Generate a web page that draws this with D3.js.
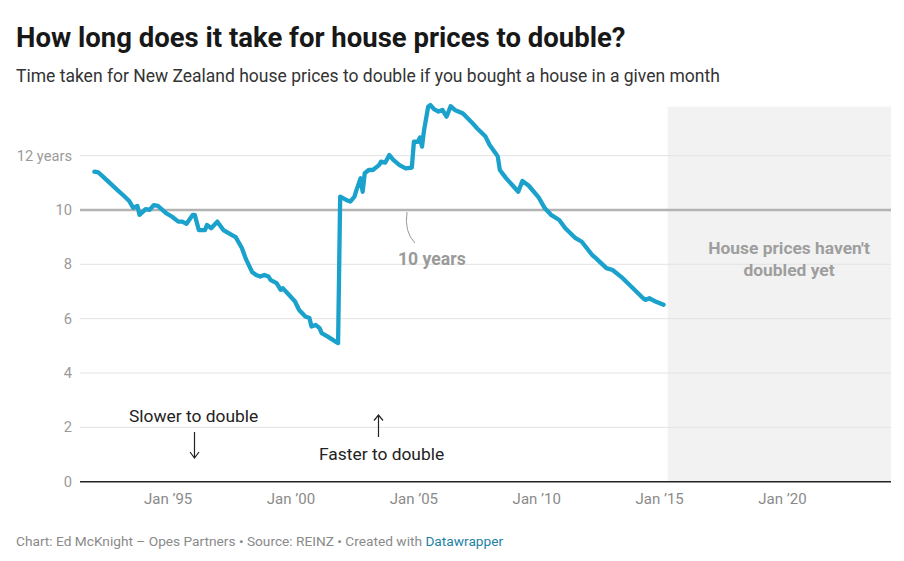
<!DOCTYPE html>
<html><head><meta charset="utf-8">
<script src="https://cdn.jsdelivr.net/npm/d3@7"></script>
<style>
body{margin:0;background:#fff;}
svg{display:block;font-family:Roboto,"Noto Sans",sans-serif;}
</style></head>
<body><svg id="c" width="904" height="561"></svg>
<script>
const months = ["1992-01","1992-03","1992-06","1992-09","1992-12","1993-03","1993-06","1993-08","1993-10","1993-11",
"1994-02","1994-04","1994-06","1994-08","1994-12","1995-03","1995-06","1995-08","1995-10","1996-01",
"1996-02","1996-04","1996-07","1996-08","1996-10","1997-01","1997-04","1997-08","1997-10","1998-01",
"1998-03","1998-06","1998-08","1998-10","1998-12","1999-02","1999-03","1999-06","1999-08","1999-09",
"1999-12","2000-03","2000-05","2000-08","2000-10","2000-11","2001-01","2001-03","2001-04","2001-07",
"2001-10","2001-12","2002-01","2002-04","2002-06","2002-08","2002-09","2002-11","2002-12","2003-01",
"2003-03","2003-05","2003-08","2003-09","2003-11","2004-01","2004-03","2004-06","2004-09","2004-12",
"2005-01","2005-03","2005-04","2005-05","2005-06","2005-08","2005-09","2005-11","2006-01","2006-03",
"2006-05","2006-07","2006-09","2007-01","2007-05","2007-08","2007-12","2008-02","2008-05","2008-06",
"2008-07","2008-10","2009-01","2009-04","2009-06","2009-09","2010-02","2010-05","2010-08","2010-12",
"2011-03","2011-08","2011-11","2012-04","2012-06","2012-11","2013-02","2013-07","2013-12","2014-05",
"2014-06","2014-08","2014-11","2015-03"];
const years = [11.41,11.38,11.17,10.96,10.75,10.55,10.33,10.08,10.15,9.82,
10.03,10.0,10.18,10.15,9.88,9.75,9.57,9.57,9.49,9.82,
9.82,9.26,9.26,9.45,9.33,9.57,9.26,9.08,9.0,8.6,
8.2,7.72,7.61,7.55,7.61,7.55,7.43,7.31,7.06,7.12,
6.88,6.63,6.32,6.08,6.02,5.71,5.77,5.65,5.47,5.34,
5.19,5.10,10.49,10.37,10.31,10.49,10.74,11.17,10.67,11.35,
11.47,11.47,11.65,11.78,11.74,12.02,11.84,11.65,11.53,11.56,
12.51,12.51,12.67,12.33,12.94,13.80,13.86,13.70,13.62,13.68,
13.43,13.82,13.68,13.55,13.25,13.0,12.70,12.39,12.08,11.96,
11.47,11.17,10.92,10.67,11.07,10.90,10.45,10.06,9.82,9.63,
9.33,8.96,8.83,8.35,8.22,7.86,7.79,7.49,7.12,6.75,
6.69,6.75,6.63,6.51];
const yTicks = [0,2,4,6,8,10,12];
const yTickLabels = ["0","2","4","6","8","10","12 years"];
const xTicks = ["1995-01","2000-01","2005-01","2010-01","2015-01","2020-01"];
const xTickLabels = ["Jan \u201995","Jan \u201900","Jan \u201905","Jan \u201910","Jan \u201915","Jan \u201920"];
const xDomain = ["1991-06","2024-06"];
const notDoubledRange = ["2015-05","2024-06"];
const refValue = 10;

const parse = d3.timeParse("%Y-%m");
const data = months.map((m,i)=>({d:parse(m), v:years[i]}));

const svg = d3.select("#c");
const x = d3.scaleTime().domain(xDomain.map(parse)).range([80, 891]);
const y = d3.scaleLinear().domain([0, 13.8]).range([481.7, 106.7]);

// title & subtitle
svg.append("text").attr("x",16).attr("y",47).attr("font-size",27.5).attr("font-weight",700).attr("fill","#181818")
  .text("How long does it take for house prices to double?");
svg.append("text").attr("x",16).attr("y",82).attr("font-size",17.5).attr("fill","#333")
  .text("Time taken for New Zealand house prices to double if you bought a house in a given month");

// shaded region
svg.append("rect").attr("x",x(parse(notDoubledRange[0]))).attr("y",y.range()[1])
  .attr("width",x(parse(notDoubledRange[1]))-x(parse(notDoubledRange[0])))
  .attr("height",y(0)-y.range()[1]).attr("fill","#f2f2f2");

// grid
const gy = svg.append("g");
gy.selectAll("line").data(yTicks.filter(t=>t!==0 && t!==refValue)).join("line")
  .attr("x1",80).attr("x2",891).attr("y1",d=>y(d)).attr("y2",d=>y(d))
  .attr("stroke","#e3e3e3").attr("stroke-width",1);
gy.selectAll("text").data(yTicks).join("text")
  .attr("x",72).attr("y",d=>y(d)+5).attr("text-anchor","end").attr("font-size",14.7).attr("fill","#9a9a9a")
  .text((d,i)=>yTickLabels[i]);

// 10-year reference line
svg.append("line").attr("x1",80).attr("x2",891).attr("y1",y(refValue)).attr("y2",y(refValue))
  .attr("stroke","#b3b3b3").attr("stroke-width",2.5);

// x axis
svg.append("line").attr("x1",80).attr("x2",891).attr("y1",y(0)).attr("y2",y(0))
  .attr("stroke","#222").attr("stroke-width",1.5);
svg.append("g").selectAll("text").data(xTicks).join("text")
  .attr("x",d=>x(parse(d))).attr("y",503.5).attr("text-anchor","middle").attr("font-size",15).attr("fill","#8a8a8a")
  .text((d,i)=>xTickLabels[i]);

// annotations
svg.append("text").attr("x",789).attr("y",254).attr("text-anchor","middle").attr("font-size",17.4).attr("font-weight",700)
  .attr("fill","#9e9e9e").text("House prices haven't");
svg.append("text").attr("x",789).attr("y",276).attr("text-anchor","middle").attr("font-size",17.4).attr("font-weight",700)
  .attr("fill","#9e9e9e").text("doubled yet");
svg.append("text").attr("x",398).attr("y",265).attr("font-size",17.6).attr("font-weight",700)
  .attr("fill","#9a9a9a").text("10 years");
svg.append("path").attr("d","M407,212 Q404,232 415,243").attr("fill","none").attr("stroke","#999").attr("stroke-width",1);

svg.append("text").attr("x",129).attr("y",421.5).attr("font-size",17.4).attr("fill","#222").text("Slower to double");
svg.append("text").attr("x",319).attr("y",460).attr("font-size",17.4).attr("fill","#222").text("Faster to double");
const arr = svg.append("g").attr("stroke","#222").attr("stroke-width",1.2).attr("fill","none");
arr.append("path").attr("d","M194.5,432 V458 M190,452 L194.5,458 L199,452");
arr.append("path").attr("d","M378.5,437 V415 M374,420.5 L378.5,415 L383,420.5");

// data line
svg.append("path").datum(data)
  .attr("d", d3.line().x(d=>x(d.d)).y(d=>y(d.v)))
  .attr("fill","none").attr("stroke","#1aa1cc").attr("stroke-width",4.3)
  .attr("stroke-linejoin","round").attr("stroke-linecap","round");

// footer
const f = svg.append("text").attr("x",16).attr("y",546).attr("font-size",13.7).attr("fill","#8a8a8a");
f.append("tspan").text("Chart: Ed McKnight \u2013 Opes Partners \u2022 Source: REINZ \u2022 Created with ");
f.append("tspan").attr("fill","#1d81a2").text("Datawrapper");
</script></body></html>
